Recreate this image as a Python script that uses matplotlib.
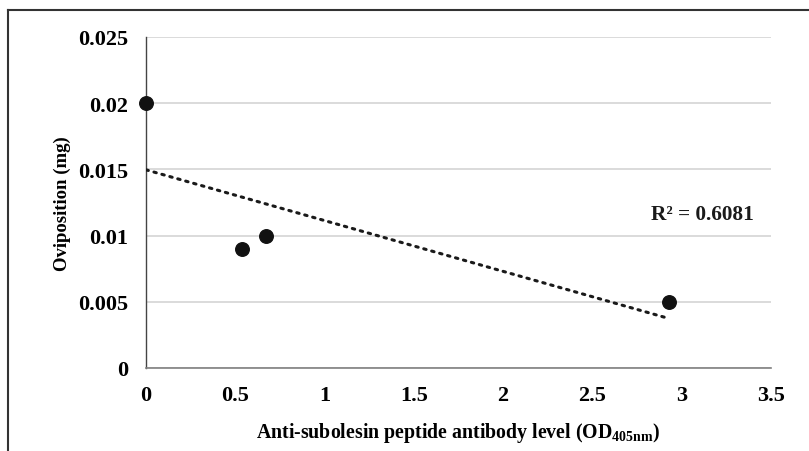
import matplotlib
matplotlib.use("Agg")
import matplotlib.pyplot as plt
import numpy as np
from matplotlib.lines import Line2D

# antibody level (OD405nm) vs oviposition (mg)
antibody_od = [0.0, 0.54, 0.67, 2.93]
oviposition_mg = [0.020, 0.009, 0.010, 0.005]
x_ticks = [0, 0.5, 1, 1.5, 2, 2.5, 3, 3.5]
y_ticks = [0, 0.005, 0.01, 0.015, 0.02, 0.025]
y_tick_labels = ["0", "0.005", "0.01", "0.015", "0.02", "0.025"]
r2_label = "R² = 0.6081"

plt.rcParams["font.family"] = ["Liberation Serif", "DejaVu Serif"]
plt.rcParams["font.weight"] = "bold"
plt.rcParams["mathtext.fontset"] = "custom"
plt.rcParams["mathtext.rm"] = "Liberation Serif:bold"
plt.rcParams["mathtext.bf"] = "Liberation Serif:bold"
plt.rcParams["mathtext.it"] = "Liberation Serif:bold"

fig = plt.figure(figsize=(8.09, 4.52), dpi=100)
ax = fig.add_axes([146 / 809, 1 - 369 / 452, 625 / 809, 331 / 452])

# linear trendline (least squares) over the data range
slope, intercept = np.polyfit(antibody_od, oviposition_mg, 1)
xf = np.array([min(antibody_od), max(antibody_od)])
ax.plot(xf, slope * xf + intercept, color="#1a1a1a", lw=2.2,
        linestyle=(0, (0.8, 1.9)), dash_capstyle="round", zorder=3)

ax.scatter(antibody_od, oviposition_mg, s=95, color="#111111", zorder=4, clip_on=False)

ax.set_xlim(0, 3.5)
ax.set_ylim(0, 0.025)
ax.set_xticks(x_ticks)
ax.set_xticklabels([f"{t:g}" for t in x_ticks])
ax.set_yticks(y_ticks)
ax.set_yticklabels(y_tick_labels)
ax.tick_params(length=0, labelsize=16, pad=12)
ax.tick_params(axis="y", pad=13)
for lab in ax.get_xticklabels() + ax.get_yticklabels():
    lab.set_fontweight("bold")

ax.grid(axis="y", color="#d4d4d4", lw=1.2)
ax.set_axisbelow(True)
for s in ["top", "right"]:
    ax.spines[s].set_visible(False)
ax.spines["left"].set_color("#444444")
ax.spines["left"].set_linewidth(1.0)
ax.spines["bottom"].set_color("#808080")
ax.spines["bottom"].set_linewidth(1.2)

ax.set_ylabel("Oviposition (mg)", fontsize=13.5, fontweight="bold", labelpad=5)
ax.set_xlabel("Anti-subolesin peptide antibody level (OD$_{\\mathrm{405nm}}$)",
              fontsize=14.3, fontweight="bold", labelpad=11)

ax.text(2.83, 0.01163, r2_label, fontsize=15.3, fontweight="bold",
        ha="left", va="center", color="#1a1a1a")

# outer frame (top and left edges only visible)
fig.add_artist(Line2D([8 / 809, 1], [1 - 10.5 / 452, 1 - 10.5 / 452],
                      transform=fig.transFigure, color="#333333", lw=1.5))
fig.add_artist(Line2D([8 / 809, 8 / 809], [0, 1 - 10.5 / 452],
                      transform=fig.transFigure, color="#333333", lw=1.5))

fig.savefig("out.png", dpi=100)
